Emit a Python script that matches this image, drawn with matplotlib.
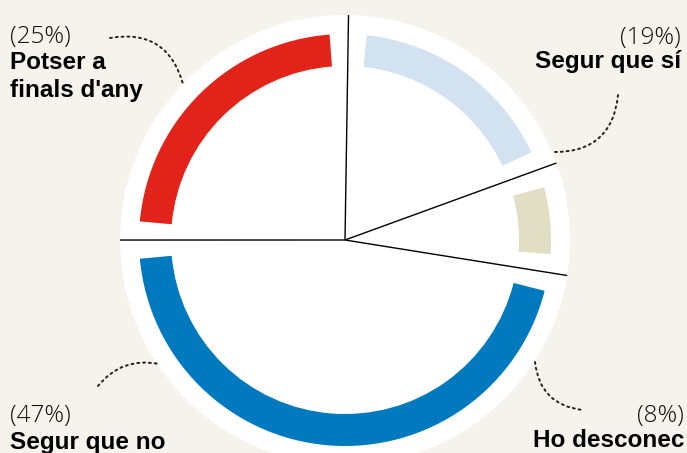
import numpy as np
import matplotlib.pyplot as plt
from matplotlib.patches import Wedge, FancyArrowPatch

labels = ["Segur que sí", "Ho desconec", "Segur que no", "Potser a\nfinals d'any"]
percents = [19, 8, 47, 25]
colors = ["#d3e2f1", "#e2ddc5", "#0079bf", "#e2231a"]

bg = "#f6f3ed"
W, H = 687, 453
cx, cy = 345, 453 - 240
r_white = 225
r_arc = 206
arc_w = 32
gap = 5.2
start = 89.1

fig = plt.figure(figsize=(W / 100, H / 100), dpi=100, facecolor=bg)
ax = fig.add_axes([0, 0, 1, 1])

# white disc
ax.pie(percents, radius=r_white, center=(cx, cy), startangle=start,
       counterclock=False, colors=["white"] * 4, wedgeprops=dict(linewidth=0),
       frame=True)
ax.set_xlim(0, W)
ax.set_ylim(0, H)
ax.set_aspect("equal")
ax.axis("off")

fracs = np.array(percents) / sum(percents)
bounds = start - 360 * np.concatenate([[0], np.cumsum(fracs)])

# colored arcs
for i in range(len(percents)):
    t_hi, t_lo = bounds[i], bounds[i + 1]
    ax.add_patch(Wedge((cx, cy), r_arc, t_lo + gap, t_hi - gap, width=arc_w,
                       facecolor=colors[i], edgecolor="none"))

# dividing lines
for t in bounds[:-1]:
    a = np.radians(t)
    ax.plot([cx, cx + r_white * np.cos(a)], [cy, cy + r_white * np.sin(a)],
            color="black", lw=1.0, solid_capstyle="butt")

# dotted leaders
leaders = [
    ((618, 358), (555, 301), -0.45),
    ((535, 91), (583, 43), 0.4),
    ((98, 67), (159, 89), -0.3),
    ((110, 415), (183, 369), -0.45),
]
for a, b, rad in leaders:
    ax.add_patch(FancyArrowPatch(a, b, arrowstyle="-", shrinkA=0, shrinkB=0,
                                 connectionstyle=f"arc3,rad={rad}",
                                 linestyle=(0, (1, 2)), lw=1.4, color="#222222"))

# labels
fs = 17.5
light = dict(family="Open Sans", weight="light", fontsize=fs, color="#111111")
bold = dict(family="Liberation Sans", weight="bold", fontsize=fs, color="black")

ax.text(10, 410, f"({percents[3]}%)", ha="left", va="baseline", **light)
ax.text(10, 384, "Potser a", ha="left", va="baseline", **bold)
ax.text(10, 356, "finals d'any", ha="left", va="baseline", **bold)

ax.text(681, 409, f"({percents[0]}%)", ha="right", va="baseline", **light)
ax.text(681, 385, labels[0], ha="right", va="baseline", **bold)

ax.text(10, 31, f"({percents[2]}%)", ha="left", va="baseline", **light)
ax.text(10, 4, labels[2], ha="left", va="baseline", **bold)

ax.text(684, 31, f"({percents[1]}%)", ha="right", va="baseline", **light)
ax.text(684, 6, labels[1], ha="right", va="baseline", **bold)

fig.savefig("out.png", dpi=100, facecolor=bg)
